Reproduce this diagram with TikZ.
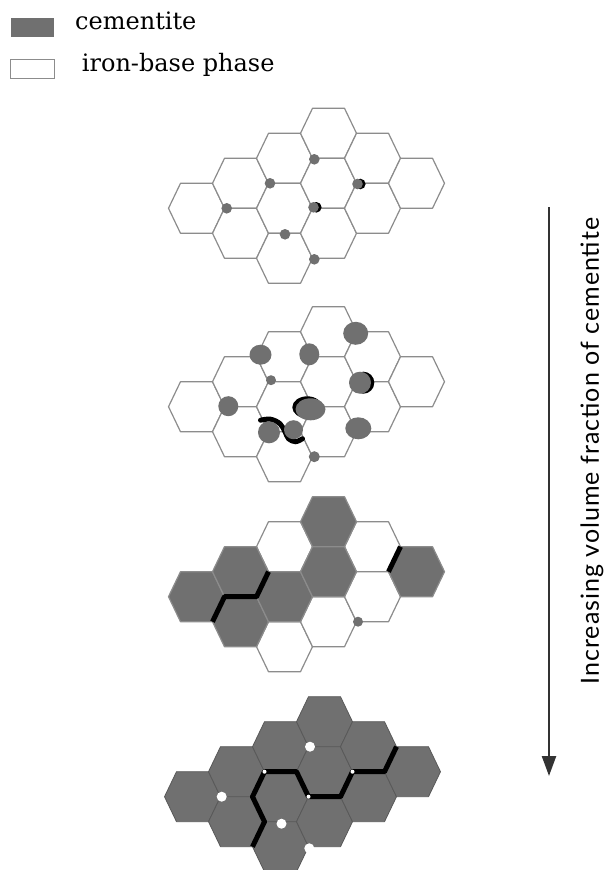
\documentclass[tikz,border=0pt]{standalone}
\usepackage{fontspec}
\setmainfont{DejaVu Serif}
\newfontfamily\labelsans[LetterSpace=4]{Lato}
\usetikzlibrary{arrows.meta}
\definecolor{cem}{RGB}{112,112,112}
\definecolor{grainline}{RGB}{140,140,140}
% one hexagonal grain: column, row, style
\newcommand\hexcell[3]{\draw[#3] (#1*44-28,#2*25) -- (#1*44-16,#2*25-25) -- (#1*44+16,#2*25-25) -- (#1*44+28,#2*25) -- (#1*44+16,#2*25+25) -- (#1*44-16,#2*25+25) -- cycle;}
\begin{document}
\begin{tikzpicture}[x=1pt,y=-1pt,
  grain/.style={draw=grainline, line width=1.2pt, line join=round},
  ferrite/.style={grain, fill=white},
  cemgrain/.style={grain, fill=cem},
  fullcem/.style={draw=black!65, line width=0.8pt, fill=cem, line join=round},
  film/.style={draw=black, line width=5pt, line join=round},
  particle/.style={fill=cem},
  pore/.style={fill=white},
  keytext/.style={anchor=base west, inner sep=0pt, font=\fontsize{24}{28}\selectfont}
]
\useasboundingbox (0,0) rectangle (606,870);

% ---------- key ----------
\node[fill=cem, minimum width=43pt, minimum height=18.5pt, inner sep=0pt] (cemkey) at (32.5,27.7) {};
\node[draw=grainline, line width=1.2pt, fill=white, minimum width=44pt, minimum height=19pt, inner sep=0pt] (ironkey) at (32.2,69.3) {};
\node[keytext] (cemlabel) at (75,29.3) {cementite};
\node[keytext] (ironlabel) at (81.7,71.7) {iron-base phase};

% ---------- stage 1: small particles at grain corners ----------
\begin{scope}[shift={(196.5,208.3)}]
  \foreach \c/\r in {0/0,1/-1,1/1,2/-2,2/0,2/2,3/-3,3/-1,3/1,4/-2,4/0,5/-1}
    {\hexcell{\c}{\r}{ferrite}}
  \fill[particle] (30.2,0) circle[radius=5.3];
  \fill[particle] (73.5,-25) circle[radius=5.3];
  \fill[particle] (88.5,26) circle[radius=5.3];
  \fill[particle] (117.8,-49) circle[radius=5.3];
  \fill[black] (163.8,-24.3) circle[radius=5.3];
  \fill[particle] (161,-24.3) circle[radius=5.3];
  \fill[black] (119.8,-1) circle[radius=5.3];
  \fill[particle] (117,-1) circle[radius=5.3];
  \fill[particle] (117.8,51) circle[radius=5.3];
\end{scope}

% ---------- stage 2: grown particles, first films ----------
\begin{scope}[shift={(196.5,406.7)}]
  \foreach \c/\r in {0/0,1/-1,1/1,2/-2,2/0,2/2,3/-3,3/-1,3/1,4/-2,4/0,5/-1}
    {\hexcell{\c}{\r}{ferrite}}
  \draw[black, line width=5pt, line cap=round] plot[smooth, tension=0.6] coordinates
    {(64,13.5) (74,12.5) (83.5,17) (88.5,25) (92,32) (99,35) (106,32)};
  \fill[particle] (64,-52) circle[x radius=11, y radius=10];
  \fill[particle] (74.5,-26.5) circle[radius=5];
  \fill[particle] (31.8,-0.5) circle[radius=10];
  \fill[particle] (72.5,25.6) circle[radius=11];
  \fill[particle] (97,23) circle[radius=9.5];
  \fill[particle] (112.8,-52.4) circle[x radius=10, y radius=11];
  \fill[particle] (159.2,-73.4) circle[x radius=12.5, y radius=11.5];
  \fill[black] (166.8,-24) circle[radius=11];
  \fill[particle] (163.5,-24) circle[radius=11];
  \fill[black] (110.8,0.6) circle[x radius=15, y radius=11];
  \fill[particle] (114,2.6) circle[x radius=15, y radius=11];
  \fill[particle] (161.8,21.6) circle[x radius=13, y radius=11];
  \fill[particle] (117.8,50) circle[radius=5.5];
\end{scope}

% ---------- stage 3: whole grains transformed ----------
\begin{scope}[shift={(196.5,596.7)}]
  \foreach \c/\r in {2/-2,2/2,3/1,4/-2,4/0}
    {\hexcell{\c}{\r}{ferrite}}
  \foreach \c/\r in {0/0,1/-1,1/1,2/0,3/-3,3/-1,5/-1}
    {\hexcell{\c}{\r}{cemgrain}}
  \draw[film] (72,-25) -- (60,0) -- (28,0) -- (16,25);
  \draw[film] (204,-50) -- (192,-25);
  \fill[particle] (161.5,25) circle[radius=5];
\end{scope}

% ---------- stage 4: fully cementite, residual pores ----------
\begin{scope}[shift={(192.5,796.7)}]
  \foreach \c/\r in {0/0,1/-1,1/1,2/-2,2/0,2/2,3/-3,3/-1,3/1,4/-2,4/0,5/-1}
    {\hexcell{\c}{\r}{fullcem}}
  \draw[film] (60,50) -- (72,25) -- (60,0) -- (72,-25) -- (104,-25) -- (116,0)
    -- (148,0) -- (160,-25) -- (192,-25) -- (204,-50);
  \fill[pore] (117.5,-50) circle[radius=5];
  \fill[pore] (29.2,0) circle[radius=5];
  \fill[pore] (89,27) circle[radius=5];
  \fill[pore] (116.8,51.6) circle[radius=5];
  \fill[pore] (72,-25) circle[radius=2];
  \fill[pore] (160,-25) circle[radius=2];
  \fill[pore] (116,0) circle[radius=2];
\end{scope}

% ---------- trend arrow ----------
\coordinate (arrowtop) at (549,207);
\coordinate (arrowtip) at (549,776);
\draw[black!80, line width=2.4pt, -{Triangle[width=14pt,length=20pt]}] (arrowtop) -- (arrowtip);
\node[rotate=90, inner sep=0pt, font=\labelsans\fontsize{25}{29}\selectfont] (trend) at (592,451)
  {Increasing volume fraction of cementite};
\end{tikzpicture}
\end{document}
